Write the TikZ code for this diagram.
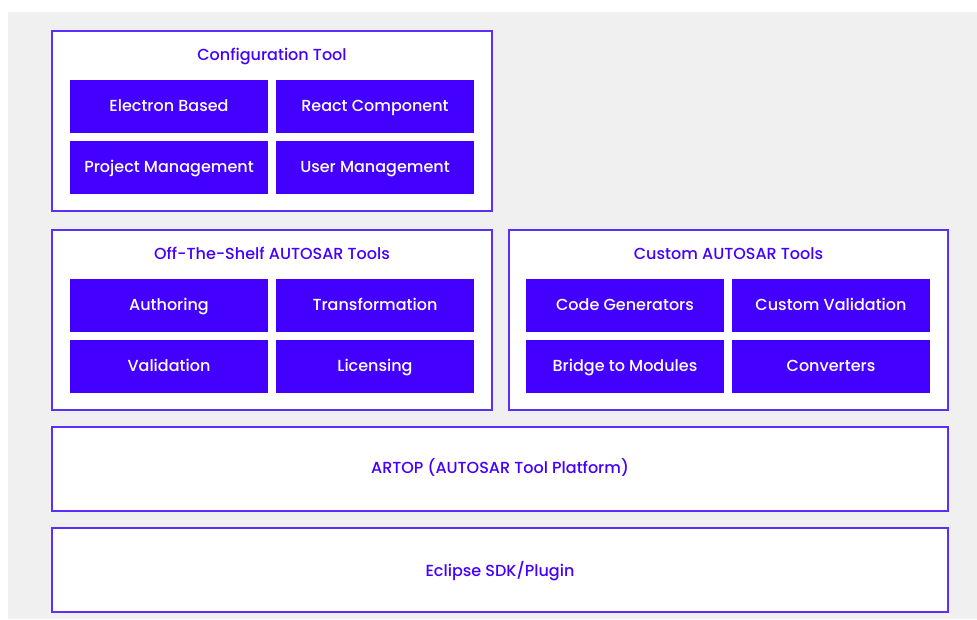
\documentclass[tikz,border=0pt]{standalone}
\usepackage{fontspec}
\setmainfont{Poppins}[UprightFont={* Medium}]
\definecolor{pur}{HTML}{4400FF}
\definecolor{bord}{HTML}{5A2EFF}
\definecolor{bg}{HTML}{F0F0F0}
\begin{document}
\begin{tikzpicture}[x=1pt,y=-1pt,
  frame/.style={draw=bord,line width=1.2pt,fill=white},
  cell/.style={fill=pur,draw=none},
  ttl/.style={text=pur,anchor=base,inner sep=0pt,font=\fontsize{16}{19}\selectfont},
  ctxt/.style={text=white,anchor=base,inner sep=0pt,font=\fontsize{16}{19}\selectfont}]
\useasboundingbox (0,0) rectangle (977,619);
\fill[white] (0,0) rectangle (977,619);
\fill[bg] (8,12) rectangle (977,619);
% frames
\draw[frame] (52,31) rectangle (492,211);
\draw[frame] (52,230) rectangle (492,410);
\draw[frame] (509,230) rectangle (948,410);
\draw[frame] (52,427) rectangle (948,511);
\draw[frame] (52,528) rectangle (948,612);
% titles
\node[ttl] (t1) at (272,60.5) {Configuration Tool};
\node[ttl] (t2) at (272,259.5) {Off-The-Shelf AUTOSAR Tools};
\node[ttl] (t3) at (728.5,259.5) {Custom AUTOSAR Tools};
\node[ttl] (t4) at (500,473.5) {ARTOP (AUTOSAR Tool Platform)};
\node[ttl] (t5) at (500,576.5) {Eclipse SDK/Plugin};
% cells
\newcommand{\cellbox}[4]{%
  \fill[cell] (#1,#2) rectangle ++(198,53);
  \node[ctxt] (#4) at (#1+99,#2+31) {#3};}
\cellbox{70}{80}{Electron Based}{c1}
\cellbox{276}{80}{React Component}{c2}
\cellbox{70}{141}{Project Management}{c3}
\cellbox{276}{141}{User Management}{c4}
\cellbox{70}{279}{Authoring}{c5}
\cellbox{276}{279}{Transformation}{c6}
\cellbox{70}{340}{Validation}{c7}
\cellbox{276}{340}{Licensing}{c8}
\cellbox{526}{279}{Code Generators}{c9}
\cellbox{732}{279}{Custom Validation}{c10}
\cellbox{526}{340}{Bridge to Modules}{c11}
\cellbox{732}{340}{Converters}{c12}
\end{tikzpicture}
\end{document}
